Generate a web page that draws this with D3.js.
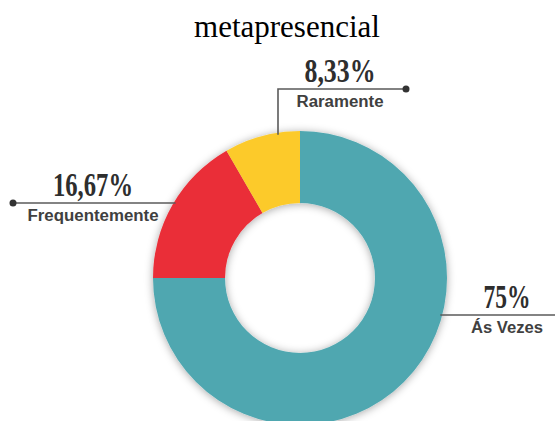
<!DOCTYPE html>
<html>
<head>
<meta charset="utf-8">
<script src="https://cdn.jsdelivr.net/npm/d3@7"></script>
<style>
  html, body { margin: 0; padding: 0; background: #fff; }
</style>
</head>
<body>
<svg id="chart" width="555" height="421"></svg>
<script>
// data
const title = "metapresencial";
const categories = ["Ás Vezes", "Frequentemente", "Raramente"];
const values = [75, 16.67, 8.33];
const colors = ["#4fa7b0", "#ea2f38", "#fcca2c"];

const width = 555, height = 421;
const cx = 300, cy = 278;
const outerR = 147, innerR = 75;

// label layout: line height, text centre, line end away from the donut, widths
const labelLayout = [
  { lineY: 315, textX: 507, far: 555, pctW: 47, nameW: 72 },
  { lineY: 203, textX: 93, far: 13, pctW: 80, nameW: 131, dot: true },
  { lineY: 89, textX: 340, far: 406, pctW: 71, nameW: 87, dot: true, elbowX: 278 },
];

const fmt = (v) => (Number.isInteger(v) ? v : v.toFixed(2).replace(".", ",")) + "%";

const svg = d3.select("#chart");

const defs = svg.append("defs");
const f = defs.append("filter").attr("id", "shadow")
  .attr("x", "-20%").attr("y", "-20%").attr("width", "140%").attr("height", "140%");
f.append("feDropShadow")
  .attr("dx", 0).attr("dy", 1)
  .attr("stdDeviation", 4)
  .attr("flood-color", "#000")
  .attr("flood-opacity", 0.35);

// title
svg.append("text")
  .attr("x", 287)
  .attr("y", 37)
  .attr("text-anchor", "middle")
  .style("font-family", "'Liberation Serif', 'Times New Roman', serif")
  .style("font-size", "31px")
  .attr("fill", "#000")
  .text(title);

const data = categories.map((c, i) => ({ label: c, value: values[i], color: colors[i] }));

const pie = d3.pie().sort(null).value((d) => d.value);
const arc = d3.arc().innerRadius(innerR).outerRadius(outerR);
const arcs = pie(data);

const g = svg.append("g").attr("transform", `translate(${cx},${cy})`);

g.append("g")
  .attr("filter", "url(#shadow)")
  .selectAll("path")
  .data(arcs)
  .join("path")
  .attr("d", arc)
  .attr("fill", (d) => d.data.color);

// leader lines + labels
const lines = svg.append("g");
arcs.forEach((a, i) => {
  const L = labelLayout[i];
  const dy = L.lineY - cy;
  let pts;
  if (L.elbowX !== undefined) {
    // vertical drop onto the outer rim, then across
    const dx = L.elbowX - cx;
    const rimY = cy - Math.sqrt(outerR * outerR - dx * dx);
    pts = [[L.elbowX, rimY + 2], [L.elbowX, L.lineY], [L.far, L.lineY]];
  } else {
    const side = L.far > cx ? 1 : -1;
    const rimX = cx + side * Math.sqrt(outerR * outerR - dy * dy);
    pts = [[rimX - side * 2, L.lineY], [L.far, L.lineY]];
  }
  lines.append("path")
    .attr("d", d3.line()(pts))
    .attr("fill", "none")
    .attr("stroke", "#5a5a5a")
    .attr("stroke-width", 1.6);
  if (L.dot) {
    lines.append("circle")
      .attr("cx", L.far).attr("cy", L.lineY).attr("r", 3.5)
      .attr("fill", "#333");
  }
  lines.append("text")
    .attr("x", L.textX)
    .attr("y", L.lineY - 7)
    .attr("text-anchor", "middle")
    .attr("textLength", L.pctW)
    .attr("lengthAdjust", "spacingAndGlyphs")
    .style("font-family", "'Liberation Serif', 'DejaVu Serif', serif")
    .style("font-weight", "bold")
    .style("font-size", "34px")
    .attr("fill", "#2e2e2e")
    .text(fmt(a.data.value));
  lines.append("text")
    .attr("x", L.textX)
    .attr("y", L.lineY + 18)
    .attr("text-anchor", "middle")
    .attr("textLength", L.nameW)
    .attr("lengthAdjust", "spacingAndGlyphs")
    .style("font-family", "'Liberation Sans', Arial, sans-serif")
    .style("font-weight", "bold")
    .style("font-size", "16px")
    .attr("fill", "#404040")
    .text(a.data.label);
});
</script>
</body>
</html>
